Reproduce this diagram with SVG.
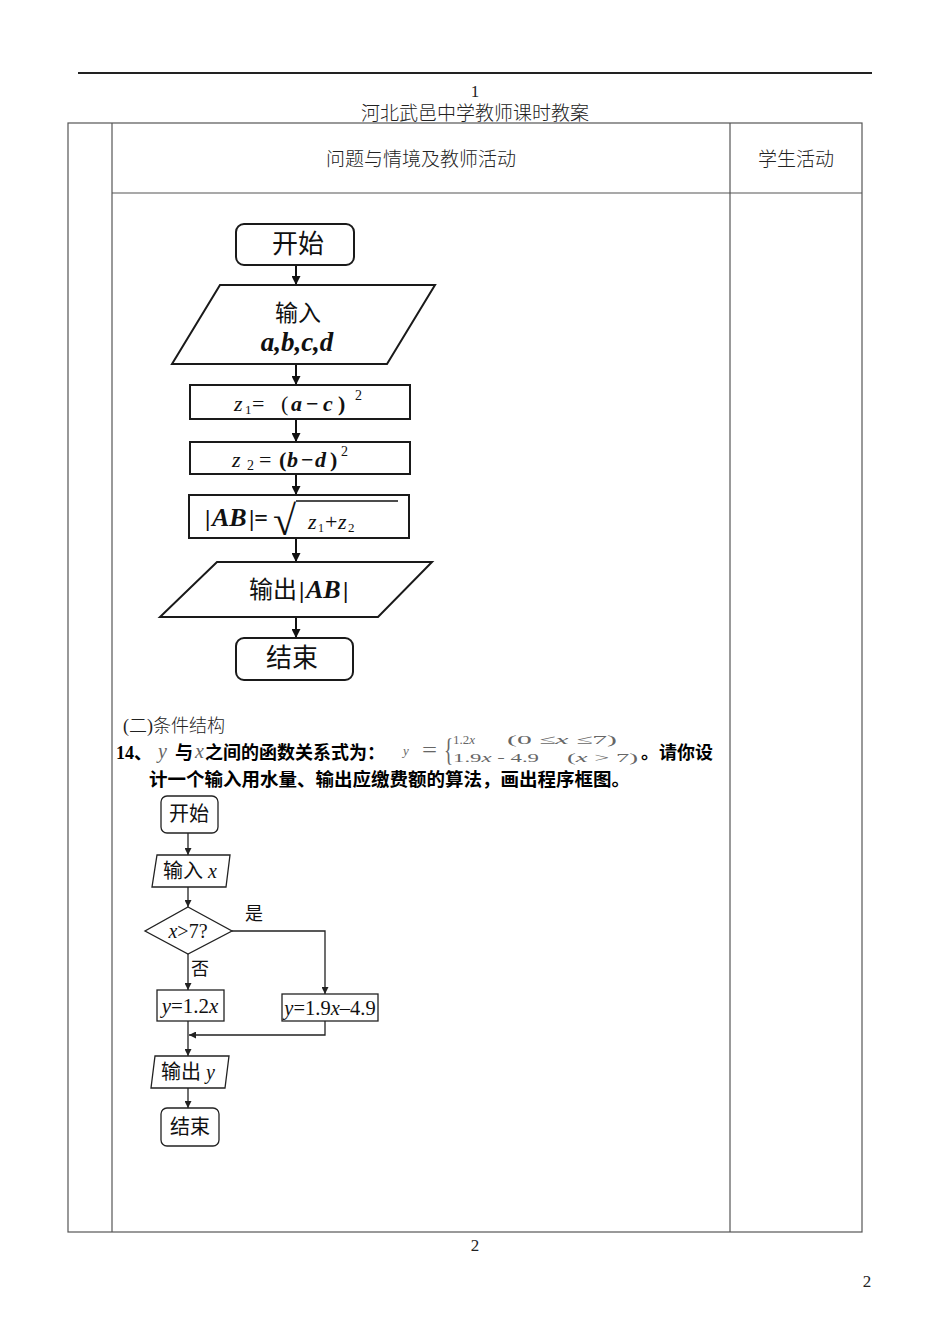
<svg xmlns="http://www.w3.org/2000/svg" width="950" height="1342" viewBox="0 0 950 1342">
  <defs>
    <marker id="arr" viewBox="0 0 10 10" refX="10" refY="5" markerWidth="9" markerHeight="9" markerUnits="userSpaceOnUse" orient="auto">
      <path d="M0,0 L10,5 L0,10 Z" fill="#111"/>
    </marker>
    <marker id="arr2" viewBox="0 0 10 10" refX="10" refY="5" markerWidth="7" markerHeight="7" markerUnits="userSpaceOnUse" orient="auto">
      <path d="M0,0 L10,5 L0,10 Z" fill="#222"/>
    </marker>
  </defs>
  <style>
    .cjk { font-family: "Liberation Serif", "Noto Sans CJK SC", serif; fill: #111; }
    .thin { font-family: "Liberation Serif", "Noto Sans CJK SC", serif; fill: #222; font-weight: 300; }
    .bold { font-family: "Liberation Serif", "Noto Sans CJK SC", serif; font-weight: bold; fill: #000; }
    .math { font-family: "Liberation Serif", "Noto Sans CJK SC", serif; fill: #111; }
    .mi { font-style: italic; }
    .mb { font-style: italic; font-weight: bold; }
    .grid { stroke: #555; stroke-width: 1.2; fill: none; }
    .box1 { fill: #fff; stroke: #1a1a1a; stroke-width: 2; }
    .box2 { fill: #fff; stroke: #222; stroke-width: 1.3; }
    .link1 { stroke: #111; stroke-width: 2; fill: none; marker-end: url(#arr); }
    .link2 { stroke: #222; stroke-width: 1.3; fill: none; }
    .formula { font-family: "Liberation Serif", serif; fill: #666; }
  </style>

  <rect width="950" height="1342" fill="#fff"/>

  <!-- page header -->
  <line x1="78" y1="73" x2="872" y2="73" stroke="#222" stroke-width="2"/>
  <text x="475" y="97" class="thin" font-size="17" text-anchor="middle">1</text>
  <text x="475" y="120" class="thin" font-size="19" text-anchor="middle">河北武邑中学教师课时教案</text>

  <!-- lesson table -->
  <g id="table">
    <rect x="68" y="123" width="794" height="1109" class="grid"/>
    <line x1="112" y1="123" x2="112" y2="1232" class="grid"/>
    <line x1="730" y1="123" x2="730" y2="1232" class="grid"/>
    <line x1="112" y1="193" x2="862" y2="193" class="grid"/>
    <text x="421" y="166" class="thin" font-size="19" text-anchor="middle">问题与情境及教师活动</text>
    <text x="796" y="166" class="thin" font-size="19" text-anchor="middle">学生活动</text>
  </g>

  <!-- flowchart 1: distance between two points -->
  <g id="connectors-1">
    <line x1="296" y1="265" x2="296" y2="285" class="link1"/>
    <line x1="296" y1="364" x2="296" y2="385" class="link1"/>
    <line x1="296" y1="419" x2="296" y2="442" class="link1"/>
    <line x1="296" y1="474" x2="296" y2="495" class="link1"/>
    <line x1="296" y1="538" x2="296" y2="562" class="link1"/>
    <line x1="296" y1="617" x2="296" y2="638" class="link1"/>
  </g>

  <g id="f1-start">
    <rect x="236" y="224" width="118" height="41" rx="8" class="box1"/>
    <text x="298" y="253" class="cjk" font-size="26" text-anchor="middle">开始</text>
  </g>

  <g id="f1-input">
    <polygon points="220,285 435,285 387,364 172,364" class="box1"/>
    <text x="298" y="321" class="cjk" font-size="23" text-anchor="middle">输入</text>
    <text x="297" y="351" class="math mb" font-size="27" text-anchor="middle">a,b,c,d</text>
  </g>

  <g id="f1-z1">
    <rect x="190" y="385" width="220" height="34" class="box1"/>
    <text y="411" class="math" font-size="22"><tspan x="234" class="mi">z</tspan><tspan x="245" font-size="13" dy="3">1</tspan><tspan x="252" dy="-3">=</tspan><tspan x="281">(</tspan><tspan x="291" class="mb">a</tspan><tspan x="306" font-weight="bold">−</tspan><tspan x="323" class="mb">c</tspan><tspan x="338" font-weight="bold">)</tspan><tspan x="355" font-size="14" dy="-11">2</tspan></text>
  </g>

  <g id="f1-z2">
    <rect x="190" y="442" width="220" height="32" class="box1"/>
    <text y="467" class="math" font-size="22"><tspan x="232" class="mi">z</tspan><tspan x="247" font-size="14" dy="3">2</tspan><tspan x="259" dy="-3">=</tspan><tspan x="279" font-weight="bold">(</tspan><tspan x="287" class="mb">b</tspan><tspan x="301" font-weight="bold">−</tspan><tspan x="315" class="mb">d</tspan><tspan x="330" font-weight="bold">)</tspan><tspan x="341" font-size="14" dy="-11">2</tspan></text>
  </g>

  <g id="f1-dist">
    <rect x="189" y="495" width="220" height="43" class="box1"/>
    <text y="526" class="math"><tspan x="205" font-size="24" font-weight="bold">|</tspan><tspan x="212" font-size="26" class="mb">AB</tspan><tspan x="249" font-size="24" font-weight="bold">|=</tspan></text>
    <text x="273" y="535" class="math" font-size="42">√</text>
    <line x1="296" y1="501" x2="398" y2="501" stroke="#111" stroke-width="1.5"/>
    <text y="529" class="math" font-size="22"><tspan x="308" class="mi">z</tspan><tspan x="318" font-size="12" dy="3">1</tspan><tspan x="325" dy="-3">+</tspan><tspan x="338" class="mi">z</tspan><tspan x="348" font-size="13" dy="3">2</tspan></text>
  </g>

  <g id="f1-output">
    <polygon points="217,562 432,562 378,617 160,617" class="box1"/>
    <text y="598" class="cjk" font-size="24"><tspan x="249">输出</tspan><tspan x="299" class="math" font-weight="bold">|</tspan><tspan x="306" class="math mb" font-size="26">AB</tspan><tspan x="343" class="math" font-weight="bold">|</tspan></text>
  </g>

  <g id="f1-end">
    <rect x="236" y="638" width="117" height="42" rx="8" class="box1"/>
    <text x="292" y="667" class="cjk" font-size="26" text-anchor="middle">结束</text>
  </g>

  <!-- section text -->
  <text x="123" y="732" class="thin" font-size="18">(二)条件结构</text>
  <text x="116" y="759" class="bold" font-size="18">14、</text>
  <text x="158" y="758" class="formula" font-size="20" font-style="italic" fill="#444">y</text>
  <text x="175" y="759" class="bold" font-size="18">与</text>
  <text x="195" y="758" class="formula" font-size="20" font-style="italic" fill="#444">x</text>
  <text x="205" y="759" class="bold" font-size="18">之间的函数关系式为：</text>
  <g id="piecewise">
    <text x="403" y="755" class="formula" font-size="13" font-style="italic">y</text>
    <text x="422" y="757" class="formula" font-size="20" textLength="15" lengthAdjust="spacingAndGlyphs">=</text>
    <text x="0" y="0" class="formula" font-size="32" transform="translate(444 761) scale(0.6 1)">{</text>
    <text x="453" y="744" class="formula" font-size="13" textLength="22" lengthAdjust="spacingAndGlyphs">1.2<tspan font-style="italic">x</tspan></text>
    <text x="507" y="744" class="formula" font-size="13" textLength="110" lengthAdjust="spacingAndGlyphs">(0  ≤<tspan font-style="italic">x</tspan>  ≤7)</text>
    <text x="453" y="762" class="formula" font-size="13" textLength="86" lengthAdjust="spacingAndGlyphs">1.9<tspan font-style="italic">x</tspan> - 4.9</text>
    <text x="567" y="762" class="formula" font-size="13" textLength="71" lengthAdjust="spacingAndGlyphs">(<tspan font-style="italic">x</tspan> &gt; 7)</text>
  </g>
  <text x="641" y="759" class="bold" font-size="18">。请你设</text>
  <text x="149" y="786" class="bold" font-size="18.5">计一个输入用水量、输出应缴费额的算法，画出程序框图。</text>

  <!-- flowchart 2: water fee -->
  <g id="connectors-2">
    <line x1="188" y1="833" x2="188" y2="855" class="link2" marker-end="url(#arr2)"/>
    <line x1="188" y1="887" x2="188" y2="907" class="link2" marker-end="url(#arr2)"/>
    <line x1="188" y1="954" x2="188" y2="990" class="link2" marker-end="url(#arr2)"/>
    <polyline points="232,931 325,931 325,994" class="link2" marker-end="url(#arr2)"/>
    <line x1="188" y1="1021" x2="188" y2="1056" class="link2" marker-end="url(#arr2)"/>
    <polyline points="325,1021 325,1035 189,1035" class="link2" marker-end="url(#arr2)"/>
    <line x1="188" y1="1088" x2="188" y2="1108" class="link2" marker-end="url(#arr2)"/>
    <text x="245" y="920" class="cjk" font-size="18">是</text>
    <text x="191" y="975" class="cjk" font-size="18">否</text>
  </g>

  <g id="f2-start">
    <rect x="161" y="796" width="57" height="37" rx="6" class="box2"/>
    <text x="189" y="821" class="cjk" font-size="20" text-anchor="middle">开始</text>
  </g>

  <g id="f2-input">
    <polygon points="157,855 230,855 226,887 152,887" class="box2"/>
    <text x="190" y="878" class="cjk" font-size="20" text-anchor="middle">输入 <tspan class="math mi">x</tspan></text>
  </g>

  <g id="f2-test">
    <polygon points="188,907 232,931 188,954 145,931" class="box2"/>
    <text x="188" y="938" class="math" font-size="20" text-anchor="middle"><tspan class="mi">x</tspan>&gt;7?</text>
  </g>

  <g id="f2-low">
    <rect x="157" y="990" width="67" height="31" class="box2"/>
    <text x="190" y="1013" class="math" font-size="21" text-anchor="middle"><tspan class="mi">y</tspan>=1.2<tspan class="mi">x</tspan></text>
  </g>

  <g id="f2-high">
    <rect x="282" y="994" width="96" height="27" class="box2"/>
    <text x="330" y="1015" class="math" font-size="20.5" text-anchor="middle"><tspan class="mi">y</tspan>=1.9<tspan class="mi">x</tspan>–4.9</text>
  </g>

  <g id="f2-output">
    <polygon points="155,1056 229,1056 225,1088 151,1088" class="box2"/>
    <text x="188" y="1079" class="cjk" font-size="20" text-anchor="middle">输出 <tspan class="math mi">y</tspan></text>
  </g>

  <g id="f2-end">
    <rect x="161" y="1108" width="58" height="38" rx="6" class="box2"/>
    <text x="190" y="1134" class="cjk" font-size="20" text-anchor="middle">结束</text>
  </g>

  <!-- page footer -->
  <text x="475" y="1251" class="thin" font-size="17" text-anchor="middle">2</text>
  <text x="867" y="1287" class="thin" font-size="17" text-anchor="middle">2</text>
</svg>
